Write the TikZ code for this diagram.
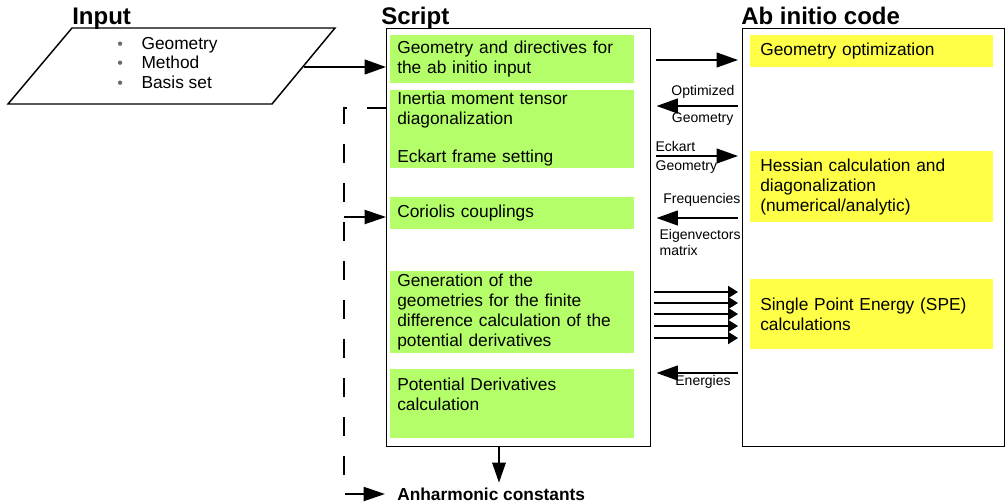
\documentclass[tikz,border=0pt]{standalone}
\usepackage{fontspec}
\setmainfont{Liberation Sans}
\usetikzlibrary{arrows.meta,positioning}

\definecolor{scriptgreen}{RGB}{180,255,105}
\definecolor{codeyellow}{RGB}{255,255,72}
\definecolor{bulletgray}{RGB}{105,105,105}

\begin{document}
\begin{tikzpicture}[
  x=0.75pt,
  y=-0.75pt,
  line cap=butt,
  line join=miter,
  title/.style={anchor=base west, inner sep=0pt,
    font=\fontsize{18}{20}\selectfont\bfseries},
  frame/.style={draw, line width=1.1pt, anchor=north west, inner sep=0pt},
  gbox/.style={fill=scriptgreen, anchor=north west, align=left,
    text width=172.5pt, inner xsep=5.25pt, inner ysep=0pt,
    font=\fontsize{13}{15}\selectfont},
  ybox/.style={fill=codeyellow, anchor=north west, align=left,
    text width=167.25pt, inner xsep=7.5pt, inner ysep=0pt,
    font=\fontsize{13}{15}\selectfont},
  lbl/.style={inner sep=1pt, font=\fontsize{10.5}{11.5}\selectfont},
  arr/.style={line width=1.5pt, -{Triangle[length=16pt,width=11pt]}},
  arrsm/.style={line width=1.5pt, -{Triangle[length=7.5pt,width=9pt]}},
  dsh/.style={line width=1.5pt, dash pattern=on 14.25pt off 15pt}
]
  \useasboundingbox (0,0) rectangle (1005,503);

  % Titles
  \node[title] (tinput)  at (72,25)  {Input};
  \node[title] (tscript) at (381,25) {Script};
  \node[title] (tcode)   at (741,25) {Ab initio code};

  % Input parallelogram
  \coordinate (pBL) at (8,104);
  \coordinate (pTL) at (72,28);
  \coordinate (pTR) at (335,28);
  \coordinate (pBR) at (272,104);
  \coordinate (inR) at (304,67);
  \draw[line width=1.1pt] (pBL) -- (pTL) -- (pTR) -- (pBR) -- cycle;

  \node[anchor=west, inner sep=0pt, align=left,
        font=\fontsize{13}{14.6}\selectfont] (inlist) at (117,63)
    {\textcolor{bulletgray}{\large•}\hspace{14pt}Geometry\\
     \textcolor{bulletgray}{\large•}\hspace{14pt}Method\\
     \textcolor{bulletgray}{\large•}\hspace{14pt}Basis set};

  % Frames
  \node[frame, minimum width=198pt, minimum height=313.5pt]
    (script) at (386,28) {};
  \node[frame, minimum width=196.5pt, minimum height=313.5pt]
    (code) at (742,28) {};

  % Script steps
  \node[gbox, minimum height=36pt] (gdir) at (390,35)
    {Geometry and directives for\\the ab initio input};
  \node[gbox, minimum height=58.5pt] (ginert) at (390,90)
    {Inertia moment tensor\\diagonalization\\[13.5pt]Eckart frame setting};
  \node[gbox, minimum height=24pt] (gcor) at (390,197)
    {Coriolis couplings};
  \node[gbox, minimum height=61.5pt] (ggen) at (390,271)
    {Generation of the\\geometries for the finite\\difference calculation of the\\potential derivatives};
  \node[gbox, minimum height=51.75pt] (gpot) at (390,369)
    {Potential Derivatives\\calculation\\\mbox{}};

  % Ab initio steps
  \node[ybox, minimum height=24pt] (yopt) at (750,35)
    {Geometry optimization};
  \node[ybox, minimum height=53.25pt] (yhess) at (750,151)
    {Hessian calculation and\\diagonalization\\(numerical/analytic)};
  \node[ybox, minimum height=52.5pt] (yspe) at (750,279)
    {Single Point Energy (SPE)\\calculations};

  % Input to script
  \draw[arr] (inR) -- (inR -| script.west);

  % Exchange between script and code
  \draw[arr, shorten <=3.75pt, shorten >=3pt]
    (script.east |- 0,60) -- (code.west |- 0,60);
  \draw[arr, shorten <=3pt, shorten >=3.75pt]
    (code.west |- 0,106) -- (script.east |- 0,106);
  \draw[arr, shorten <=3.75pt, shorten >=3pt]
    (script.east |- 0,156) -- (code.west |- 0,156);
  \draw[arr, shorten <=3pt, shorten >=3.75pt]
    (code.west |- 0,218) -- (script.east |- 0,218);
  \foreach \yy in {292,303,314,326,338}
    \draw[arrsm, shorten <=2.25pt, shorten >=3pt]
      (script.east |- 0,\yy) -- (code.west |- 0,\yy);
  \draw[arr, shorten <=3pt, shorten >=3.75pt]
    (code.west |- 0,373) -- (script.east |- 0,373);

  % Labels of the exchange
  \node[lbl, anchor=east] (lopt)  at (736,92)  {Optimized};
  \node[lbl, anchor=east] (lgeo1) at (735,119) {Geometry};
  \node[lbl, anchor=west] (leck)  at (654,146) {Eckart};
  \node[lbl, anchor=west] (lgeo2) at (654,167) {Geometry};
  \node[lbl, anchor=east] (lfreq) at (742,200) {Frequencies};
  \node[lbl, anchor=west, align=left] (leig) at (658,242.5)
    {Eigenvectors\\matrix};
  \node[lbl] (lene) at (703,382) {Energies};

  % Output
  \node[anchor=west, inner sep=1.5pt,
        font=\fontsize{13}{15}\selectfont\bfseries] (anh) at (395,494)
    {Anharmonic constants};
  \draw[arr, -{Triangle[length=15pt,width=10pt]}, shorten >=2pt]
    (script.south -| 499,0) -- (anh.north -| 499,0);

  % Dashed feedback
  \draw[dsh, -{Triangle[length=16pt,width=10.5pt]}, shorten >=7.5pt]
    (script.west |- 0,108) -| (344,494) -- (anh.west);
  \coordinate (corx) at (344,217);
  \draw[dsh, dash pattern=on 30pt off 1pt, -{Triangle[length=16pt,width=10.5pt]}]
    (corx) -- (script.west |- corx);
\end{tikzpicture}
\end{document}
